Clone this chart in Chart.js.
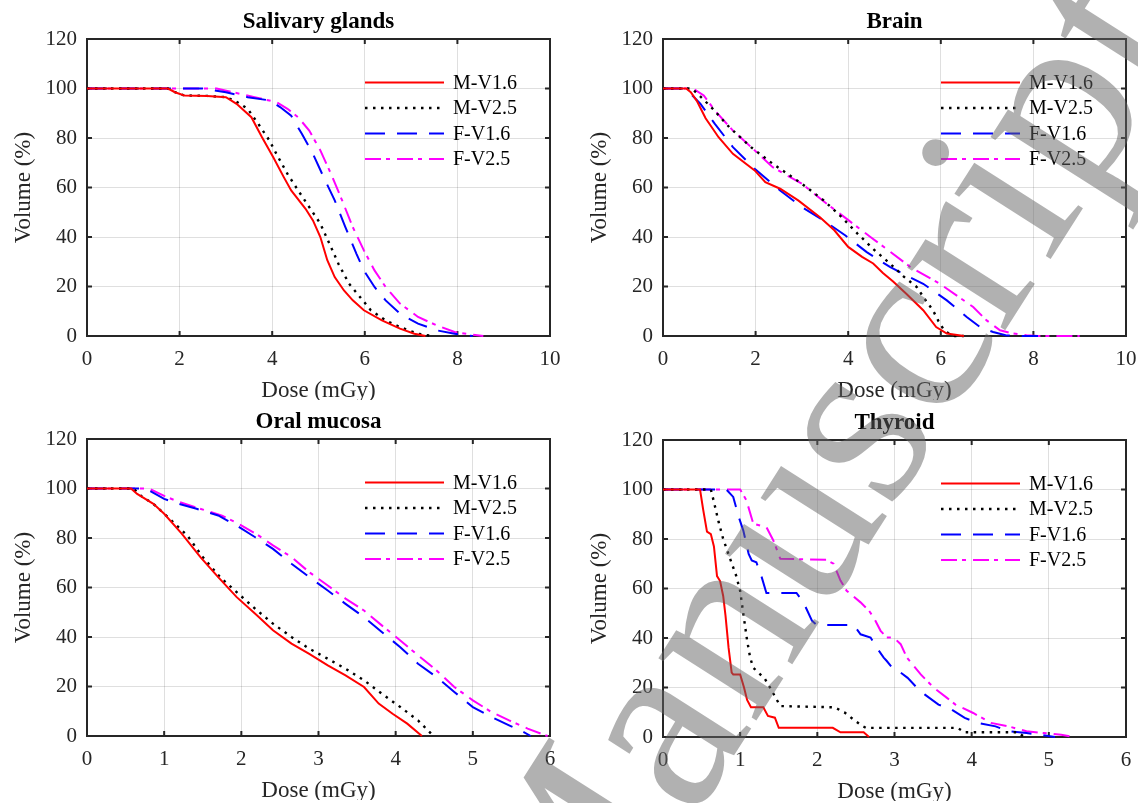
<!DOCTYPE html>
<html>
<head>
  <title>Dose-volume histograms</title>
  <script src="https://cdn.jsdelivr.net/npm/chart.js"></script>
  <style>
    body { margin: 0; background: #fff; }
    #page { position: relative; width: 1138px; height: 803px; overflow: hidden; }
    .panel { position: absolute; width: 570px; height: 400px; }
    #mark { position: absolute; left: 0; top: 0; pointer-events: none; }
  </style>
</head>
<body>
<div id="page">
  <div class="panel" style="left:0;top:0"><canvas id="c1" width="570" height="400"></canvas></div>
  <div class="panel" style="left:576px;top:0"><canvas id="c2" width="570" height="400"></canvas></div>
  <div class="panel" style="left:0;top:400px"><canvas id="c3" width="570" height="400"></canvas></div>
  <div class="panel" style="left:576px;top:401px"><canvas id="c4" width="570" height="400"></canvas></div>
  <svg id="mark" width="1138" height="803">
    <text x="572" y="1010" transform="rotate(-57.5 572 1010)" font-family="Liberation Serif" font-size="253" fill="rgba(100,100,100,0.5)">Manuscript</text>
  </svg>
</div>

<script>
  // series names + panel titles
  const seriesNames = ['M-V1.6', 'M-V2.5', 'F-V1.6', 'F-V2.5'];
  const panelTitles = ['Salivary glands', 'Brain', 'Oral mucosa', 'Thyroid'];
  const xMaxes = [10, 10, 6, 6];
  const xSteps = [2, 2, 1, 1];
  const yTicks = [0, 20, 40, 60, 80, 100, 120];

  // [dose mGy, volume %]
  const salivaryMV16 = [[0,100],[1.75,100],[1.9,98.5],[2.1,97.2],[2.6,97],[3.0,96.5],[3.23,93.8],[3.55,88.4],[3.78,80.3],[4.02,72.3],[4.25,64.2],[4.41,58.8],[4.72,51.4],[4.88,46.7],[5.04,40],[5.19,30.6],[5.35,23.8],[5.55,18.4],[5.74,14.4],[5.98,10.4],[6.37,6.3],[6.76,3],[7.07,0.9],[7.31,0]];
  const salivaryMV25 = [[0,100],[1.75,100],[1.9,98.5],[2.1,97.2],[2.6,97],[3.0,96.5],[3.2,95],[3.47,91.8],[3.7,85.7],[3.94,79],[4.09,73.6],[4.33,65.5],[4.56,58.8],[4.8,52.1],[5.04,45.4],[5.27,35.9],[5.43,29.2],[5.66,21.1],[5.9,15.7],[6.13,10.4],[6.45,6.3],[6.76,3.6],[7.15,0.9],[7.47,0]];
  const salivaryFV16 = [[0,100],[2.5,100],[3.0,98.5],[3.47,96.5],[3.94,95.2],[4.17,92.5],[4.41,89],[4.64,81.7],[4.88,73.6],[5.11,64.2],[5.35,54.8],[5.58,44],[5.82,33.2],[5.98,26.5],[6.21,19.8],[6.45,14.4],[6.76,9],[7.15,5],[7.55,2.3],[7.94,0.9],[8.33,0]];
  const salivaryFV25 = [[0,100],[2.8,100],[3.15,98.5],[3.62,96.5],[4.09,94.5],[4.33,91.8],[4.56,88.4],[4.8,83],[5.04,75],[5.27,65.5],[5.51,54.8],[5.74,44],[5.98,34.6],[6.21,26.5],[6.45,19.8],[6.76,13.1],[7.15,7.7],[7.55,4.3],[7.94,1.6],[8.33,0.5],[8.56,0]];

  const brainMV16 = [[0,100],[0.5,100],[0.6,98.5],[0.73,95],[0.92,88],[1.2,80.3],[1.51,73.6],[1.98,66.9],[2.21,62.2],[2.53,59.5],[2.92,54.8],[3.39,48],[3.7,42.7],[4.0,36],[4.3,32],[4.54,29.3],[4.75,25.5],[4.97,22],[5.26,17],[5.62,10.4],[5.9,3.6],[6.13,1],[6.5,0]];
  const brainMV25 = [[0,100],[0.62,100],[0.85,96],[1.04,92.5],[1.43,84.4],[1.9,76.3],[2.37,69.6],[3.0,61.5],[3.47,54.8],[3.86,48],[4.2,41.4],[4.55,35],[4.9,29.3],[5.2,24],[5.48,19.8],[5.65,15],[5.83,10.4],[5.95,6],[6.05,3],[6.12,1.6],[6.3,0],[6.5,0]];
  const brainFV16 = [[0,100],[0.49,100],[0.81,93.8],[1.12,85.7],[1.51,76.3],[1.98,67.6],[2.53,58.8],[3.0,52.1],[3.47,46.7],[3.94,40.6],[4.4,33.9],[4.9,27.9],[5.25,24.5],[5.62,21.1],[6.13,14.4],[6.56,7.7],[6.85,3.6],[7.13,1.6],[7.4,0.3],[7.6,0],[8.1,0]];
  const brainFV25 = [[0,100],[0.65,100],[0.88,97.2],[1.12,91.1],[1.51,83],[1.98,75],[2.37,68.2],[3.0,61.5],[3.54,53.4],[4.01,46.7],[4.48,40],[4.87,34.6],[5.34,27.9],[5.98,21.1],[6.7,11.7],[6.99,6.3],[7.28,2.3],[7.56,1],[7.85,0.3],[8.1,0],[9.0,0]];

  const oralMV16 = [[0,100],[0.57,100],[0.65,97.8],[0.86,93.8],[1.0,89.8],[1.23,81.7],[1.47,72.3],[1.7,64.2],[1.94,56.1],[2.18,49.4],[2.41,42.7],[2.65,37.3],[2.88,33.2],[3.12,28.5],[3.35,24.5],[3.59,19.8],[3.78,13.1],[3.96,9],[4.15,5],[4.34,0]];
  const oralMV25 = [[0,100],[0.6,100],[0.7,97],[0.86,93.8],[1.05,88.4],[1.3,81],[1.5,72.3],[1.73,64],[1.94,58.1],[2.18,51.4],[2.41,45.4],[2.65,40],[2.88,35.3],[3.12,31.2],[3.35,27.2],[3.59,22.5],[3.82,17.1],[4.06,11.7],[4.29,6.3],[4.48,0.3],[4.5,0]];
  const oralFV16 = [[0,100],[0.76,100],[1.0,95.8],[1.19,93.8],[1.42,91.8],[1.7,89.1],[1.94,85],[2.18,80.3],[2.41,75.6],[2.65,69.6],[2.88,64.2],[3.12,58.8],[3.35,53.4],[3.59,48],[3.82,42],[4.06,35.9],[4.29,29.2],[4.53,23.8],[4.76,17.8],[5.0,11.7],[5.24,7.7],[5.47,4.3],[5.66,1.6],[5.75,0]];
  const oralFV25 = [[0,100],[0.8,100],[1.0,97],[1.2,94.5],[1.45,92],[1.75,89],[1.95,86],[2.2,81.5],[2.41,77],[2.65,72.3],[2.88,66.2],[3.12,60.8],[3.35,55.5],[3.59,50.7],[3.82,44.7],[4.06,38.6],[4.29,32.6],[4.53,26.5],[4.76,19.8],[5.0,14.4],[5.24,9.7],[5.47,6.3],[5.71,3],[5.94,0.3],[5.97,0]];

  const thyroidMV16 = [[0,100],[0.48,100],[0.52,92],[0.57,83],[0.62,82],[0.66,77],[0.7,65],[0.74,63],[0.78,57],[0.81,49],[0.85,36],[0.89,26],[0.91,25.3],[1.0,25.3],[1.05,20],[1.09,15],[1.14,12],[1.3,12],[1.36,8.5],[1.45,7.8],[1.5,3.7],[2.2,3.7],[2.3,1.9],[2.6,1.9],[2.67,0]];
  const thyroidMV25 = [[0,100],[0.62,100],[0.66,95],[0.72,87],[0.78,80],[0.87,72],[0.95,65],[1.0,59],[1.04,50],[1.09,39],[1.13,32],[1.17,28],[1.26,25.3],[1.32,23.5],[1.39,19.8],[1.52,12.5],[2.22,12],[2.35,10],[2.47,7],[2.58,4.5],[2.63,3.7],[3.82,3.7],[3.9,1.9],[4.6,1.9],[4.68,0]];
  const thyroidFV16 = [[0,100],[0.82,100],[0.91,97],[0.98,89],[1.04,83.5],[1.11,74],[1.15,71.3],[1.21,70.6],[1.28,64.5],[1.34,58.2],[1.73,58.2],[1.82,54.4],[1.93,47],[1.99,45.3],[2.47,45.3],[2.56,41.5],[2.69,40.2],[2.77,36.1],[2.86,32.1],[2.9,30.7],[2.99,27.3],[3.08,26],[3.17,23.9],[3.29,19.9],[3.39,17.2],[3.57,13.1],[3.74,11.1],[3.91,7.7],[4.08,5.7],[4.31,4.3],[4.48,2.3],[4.71,1.6],[4.88,0.9],[5.08,0]];
  const thyroidFV25 = [[0,100],[1.0,100],[1.08,95.7],[1.17,86.2],[1.34,84.8],[1.43,79.4],[1.52,72],[2.12,71.6],[2.21,70],[2.3,63.2],[2.38,59.1],[2.56,54.4],[2.67,51],[2.73,48.3],[2.82,42.9],[2.9,40.2],[2.99,40.2],[3.08,37.5],[3.16,32.1],[3.34,25.3],[3.51,19.9],[3.68,15.8],[3.79,13.1],[4.02,9.7],[4.25,5.7],[4.48,4.3],[4.71,2.3],[4.93,1.6],[5.16,0.9],[5.33,0]];

  const panels = [
    [salivaryMV16, salivaryMV25, salivaryFV16, salivaryFV25],
    [brainMV16, brainMV25, brainFV16, brainFV25],
    [oralMV16, oralMV25, oralFV16, oralFV25],
    [thyroidMV16, thyroidMV25, thyroidFV16, thyroidFV25]
  ];

  // line looks, matlab style
  const lineColors = ['#ff0000', '#000000', '#0000ff', '#ff00ff'];
  const lineDashes = [[], [2.5, 5.5], [20, 12], [16, 5, 4, 7]];
  const lineWidths = [2, 2.4, 2, 2];

  const FONT = '"Liberation Serif", "Times New Roman", serif';
  const INK = '#262626';

  // box, inward ticks, title and legend
  const frame = {
    id: 'frame',
    beforeDatasetsDraw(chart) {
      const { ctx, chartArea: a, scales: { x, y } } = chart;
      ctx.save();
      ctx.strokeStyle = INK;
      ctx.lineWidth = 2;
      ctx.strokeRect(a.left, a.top, a.right - a.left, a.bottom - a.top);
      ctx.beginPath();
      x.ticks.forEach(t => {
        const px = x.getPixelForValue(t.value);
        ctx.moveTo(px, a.bottom); ctx.lineTo(px, a.bottom - 5);
        ctx.moveTo(px, a.top); ctx.lineTo(px, a.top + 5);
      });
      y.ticks.forEach(t => {
        const py = y.getPixelForValue(t.value);
        ctx.moveTo(a.left, py); ctx.lineTo(a.left + 5, py);
        ctx.moveTo(a.right, py); ctx.lineTo(a.right - 5, py);
      });
      ctx.stroke();
      ctx.restore();
    },
    afterDraw(chart, args, opts) {
      const { ctx, chartArea: a } = chart;
      ctx.save();
      ctx.fillStyle = '#000';
      ctx.font = 'bold 23px ' + FONT;
      ctx.textAlign = 'center';
      ctx.textBaseline = 'alphabetic';
      ctx.fillText(opts.title, (a.left + a.right) / 2, a.top - 11);

      const rows = [43.5, 69, 94.5, 120];
      ctx.font = '20px ' + FONT;
      ctx.textAlign = 'left';
      ctx.textBaseline = 'middle';
      chart.data.datasets.forEach((ds, i) => {
        const ly = a.top + rows[i];
        ctx.strokeStyle = ds.borderColor;
        ctx.lineWidth = ds.borderWidth;
        ctx.setLineDash(ds.borderDash);
        ctx.beginPath();
        ctx.moveTo(a.right - 185, ly);
        ctx.lineTo(a.right - 106, ly);
        ctx.stroke();
        ctx.setLineDash([]);
        ctx.fillStyle = '#000';
        ctx.fillText(ds.label, a.right - 97, ly + 1);
      });
      ctx.restore();
    }
  };

  panels.forEach((series, p) => {
    new Chart(document.getElementById('c' + (p + 1)), {
      type: 'line',
      data: {
        datasets: series.map((pts, i) => ({
          label: seriesNames[i],
          data: pts.map(d => ({ x: d[0], y: d[1] })),
          borderColor: lineColors[i],
          borderDash: lineDashes[i],
          borderWidth: lineWidths[i],
          borderCapStyle: 'butt',
          pointRadius: 0,
          tension: 0,
          fill: false,
          clip: false
        }))
      },
      options: {
        responsive: false,
        animation: false,
        events: [],
        devicePixelRatio: 1,
        layout: { padding: { left: 0, right: 20, top: 39, bottom: 0 } },
        plugins: {
          legend: { display: false },
          tooltip: { enabled: false },
          frame: { title: panelTitles[p] }
        },
        scales: {
          x: {
            type: 'linear',
            min: 0,
            max: xMaxes[p],
            ticks: { stepSize: xSteps[p], color: INK, font: { family: FONT, size: 21, lineHeight: 1.45 }, padding: 8, maxRotation: 0 },
            grid: { color: 'rgba(38,38,38,0.15)', drawTicks: false },
            border: { display: false },
            title: { display: true, text: 'Dose (mGy)', color: INK, font: { family: FONT, size: 23, lineHeight: 1 }, padding: { top: 0, bottom: -2 } },
            afterFit: s => { s.height = 64; }
          },
          y: {
            min: 0,
            max: 120,
            afterBuildTicks: s => { s.ticks = yTicks.map(v => ({ value: v })); },
            ticks: { color: INK, font: { family: FONT, size: 21 }, padding: 10 },
            grid: { color: 'rgba(38,38,38,0.15)', drawTicks: false },
            border: { display: false },
            title: { display: true, text: 'Volume (%)', color: INK, font: { family: FONT, size: 23, lineHeight: 1 }, padding: { top: 12, bottom: 0 } },
            afterFit: s => { s.width = 87; }
          }
        }
      },
      plugins: [frame]
    });
  });
</script>
</body>
</html>
